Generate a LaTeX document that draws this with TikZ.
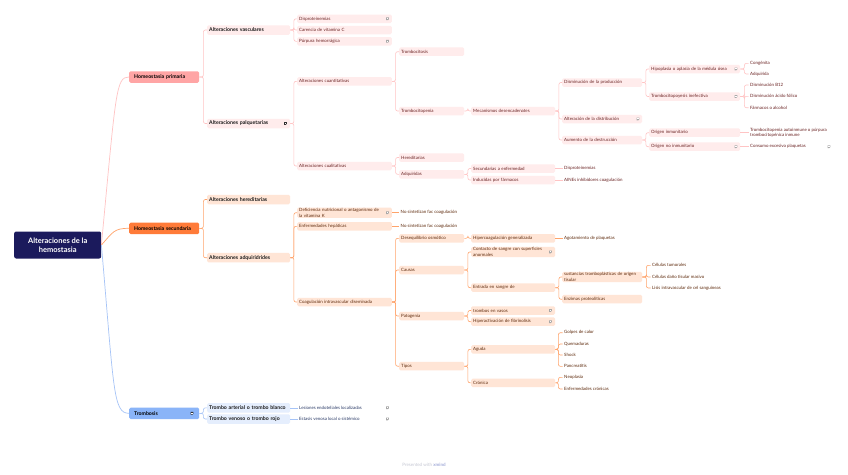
\documentclass[tikz,border=0pt]{standalone}
\usepackage{fontspec}
\setmainfont{Lato}
\usetikzlibrary{calc}
\definecolor{rootC}{HTML}{1B1A5C}
\definecolor{pkA}{HTML}{FFA5A5}
\definecolor{pkL}{HTML}{FFECEC}
\definecolor{pkE}{HTML}{FFC4C4}
\definecolor{pkT}{HTML}{6A2222}
\definecolor{orA}{HTML}{FF7B39}
\definecolor{orL}{HTML}{FFE5D6}
\definecolor{orE}{HTML}{FFA36A}
\definecolor{orT}{HTML}{5E2A0C}
\definecolor{blA}{HTML}{8AB4F8}
\definecolor{blL}{HTML}{E5EEFD}
\definecolor{blE}{HTML}{A6C4F7}
\definecolor{blT}{HTML}{2A3A66}
\definecolor{icC}{HTML}{A8A8A8}
\definecolor{wmC}{HTML}{C5C7D3}
\definecolor{wmX}{HTML}{A3ACD9}
\newcommand\mmsmall{\fontsize{4.4}{5.5}\selectfont}
\newcommand\mmmid{\fontsize{5.2}{6.2}\selectfont\bfseries}
\newcommand\mmlink[4][3.5]{\draw[#2] (#3.east) -- ++(#1,0) |- (#4.west);}
\newcommand\mmnote[3][icC]{\begin{scope}[shift={(#2,#3)}]
\fill[#1] (-1.3,-1.4) -- (1.3,-1.4) -- (1.3,0.4) -- (0.3,1.4) -- (-1.3,1.4) -- cycle;
\fill[white] (-0.6,-0.7) rectangle (0.6,-0.3);
\end{scope}}
\begin{document}
\begin{tikzpicture}[x=1pt,y=-1pt,
  box/.style={rounded corners=1.5pt, anchor=west, inner xsep=2pt, inner ysep=0.8pt,
    minimum height=8.5pt, align=left, font=\mmsmall},
  pk/.style={box, fill=pkL, text=pkT},
  or/.style={box, fill=orL, text=orT},
  b3/.style={text width=90.7pt},
  b4/.style={text width=61pt},
  b5/.style={text width=80pt},
  b6/.style={text width=76pt},
  b7/.style={text width=87pt},
  lf/.style={anchor=west, inner xsep=1.5pt, inner ysep=0.5pt, align=left, font=\mmsmall},
  l1/.style={rounded corners=1.5pt, anchor=west, inner xsep=5pt, text width=60pt,
    minimum height=11.5pt, align=left, font=\mmmid, text=black},
  l2/.style={rounded corners=1.5pt, anchor=west, inner xsep=2pt, inner ysep=0.8pt, text width=79pt,
    minimum height=9.5pt, align=left, font=\mmmid, text=black!90},
  pe/.style={draw=pkE, line width=0.6pt, rounded corners=2pt},
  oe/.style={draw=orE, line width=0.6pt, rounded corners=2pt},
  be/.style={draw=blE, line width=0.6pt, rounded corners=2pt},
  rootbox/.style={rounded corners=2pt, fill=rootC, text=white, anchor=west, minimum width=87pt,
    minimum height=27pt, align=center, font=\fontsize{7.5}{9}\selectfont\bfseries}
]
\useasboundingbox (0,0) rectangle (848,474);
\fill[white] (0,0) rectangle (848,474);

% root
\node[rootbox] (root) at (14,245) {Alteraciones de la\\hemostasia};

% level 1
\node[l1, fill=pkA] (hp) at (129,77) {Homeostasia primaria};
\node[l1, fill=orA] (hs) at (129,228.3) {Homeostasia secundaria};
\node[l1, fill=blA] (tr) at (129,413.3) {Trombosis};

\draw[draw=pkE, line width=0.7pt] (root.east) .. controls (116,90) and (116,77) .. (hp.west);
\draw[draw=orE, line width=0.7pt] (root.east) .. controls (113,232) and (114,228.3) .. (hs.west);
\draw[draw=blE, line width=0.7pt] (root.east) .. controls (114,390) and (113,413.3) .. (tr.west);

% level 2
\node[l2, fill=pkL] (av) at (207,30) {Alteraciones vasculares};
\node[l2, fill=pkL] (ap) at (207,123.5) {Alteraciones palquetarias};
\node[l2, fill=orL] (ah) at (207,199.5) {Alteraciones hereditarias};
\node[l2, fill=orL] (aa) at (207,257.7) {Alteraciones adquiridrides};
\node[l2, fill=blL] (ta) at (207,407.8) {\mbox{Trombo arterial o trombo blanco}};
\node[l2, fill=blL] (tv) at (207,419) {Trombo venoso o trombo rojo};
\mmlink[4]{pe}{hp}{av} \mmlink[4]{pe}{hp}{ap}
\mmlink[4]{oe}{hs}{ah} \mmlink[4]{oe}{hs}{aa}
\mmlink[4]{be}{tr}{ta} \mmlink[4]{be}{tr}{tv}

% ---------- pink branch ----------
\node[pk,b3] (dis) at (297,18.8) {Disproteinemias};
\node[pk,b3] (car) at (297,30) {Carencia de vitamina C};
\node[pk,b3] (pur) at (297,41.3) {Púrpura hemorrágica};
\node[pk,b3] (acu) at (297,81.3) {Alteraciones cuantitativas};
\node[pk,b3] (acl) at (297,166) {Alteraciones cualitativas};
\mmlink{pe}{av}{dis} \mmlink{pe}{av}{car} \mmlink{pe}{av}{pur}
\mmlink{pe}{ap}{acu} \mmlink{pe}{ap}{acl}

\node[pk,b4] (tcs) at (399,51.7) {Trombocitosis};
\node[pk,b4] (tcp) at (399,111) {Trombocitopenia};
\node[pk,b4] (her) at (399,157.5) {Hereditarias};
\node[pk,b4] (adq) at (399,174.3) {Adquiridas};
\mmlink{pe}{acu}{tcs} \mmlink{pe}{acu}{tcp}
\mmlink{pe}{acl}{her} \mmlink{pe}{acl}{adq}

\node[pk,b5] (mec) at (471,111) {Mecanismos desencadenates};
\node[pk,b5] (sec) at (471,168.5) {Secundarias a enfermedad};
\node[pk,b5] (ind) at (471,180) {Inducidas por fármacos};
\mmlink{pe}{tcp}{mec}
\mmlink{pe}{adq}{sec} \mmlink{pe}{adq}{ind}

\node[lf,text=pkT] (ldis) at (562.5,168.5) {Disproteinemias};
\node[lf,text=pkT] (laine) at (562.5,180) {AINEs inhibidores coagulación};
\draw[pe] (sec.east) -- (ldis.west);
\draw[pe] (ind.east) -- (laine.west);

\node[pk,b6] (dpr) at (562,82.5) {Disminución de la producción};
\node[pk,b6] (adi) at (562,119) {Alteración de la distribución};
\node[pk,b6] (ade) at (562,140) {Aumento de la destrucción};
\mmlink{pe}{mec}{dpr} \mmlink{pe}{mec}{adi} \mmlink{pe}{mec}{ade}

\node[pk,b7] (hip) at (649,69) {Hipoplasia o aplasia de la médula ósea};
\node[pk,b7] (tin) at (649,96.5) {Trombocitopoyesis inefectiva};
\node[pk,b7] (oin) at (649,132.7) {Origen inmunitario};
\node[pk,b7] (onin) at (649,146.7) {Origen no inmunitario};
\mmlink{pe}{dpr}{hip} \mmlink{pe}{dpr}{tin}
\mmlink{pe}{ade}{oin} \mmlink{pe}{ade}{onin}

\node[lf,text=pkT] (lcon) at (748.5,63.3) {Congénita};
\node[lf,text=pkT] (ladq) at (748.5,74) {Adquirida};
\node[lf,text=pkT] (lb12) at (748.5,85) {Disminución B12};
\node[lf,text=pkT] (lfol) at (748.5,96.3) {Disminución ácido fólico};
\node[lf,text=pkT] (lfar) at (748.5,107.7) {Fármacos o alcohol};
\node[lf,text=pkT] (lpti) at (748.5,132.7) {Trombocitopenia autoinmune o púrpura\\trombocitopénica inmune};
\node[lf,text=pkT] (lcons) at (748.5,146.7) {Consumo excesivo plaquetas};
\mmlink[4]{pe}{hip}{lcon} \mmlink[4]{pe}{hip}{ladq}
\mmlink[4]{pe}{tin}{lb12} \mmlink[4]{pe}{tin}{lfol} \mmlink[4]{pe}{tin}{lfar}
\draw[pe] (oin.east) -- (lpti.west);
\draw[pe] (onin.east) -- (lcons.west);

% ---------- orange branch ----------
\node[or,b3] (def) at (297,212.7) {Deficiencia nutricional o antagonismo de\\la vitamina K};
\node[or,b3] (enf) at (297,226.3) {Enfermedades hepáticas};
\node[or,b3] (cid) at (297,302) {Coagulación intravascular diseminada};
\mmlink{oe}{aa}{def} \mmlink{oe}{aa}{enf} \mmlink{oe}{aa}{cid}

\node[lf,text=orT] (lns1) at (399,212.7) {No sintetizan fac coagulación};
\node[lf,text=orT] (lns2) at (399,226.3) {No sintetizan fac coagulación};
\draw[oe] (def.east) -- (lns1.west);
\draw[oe] (enf.east) -- (lns2.west);

\node[or,b4] (deq) at (399,238.3) {Desequilibrio osmótico};
\node[or,b4] (cau) at (399,270) {Causas};
\node[or,b4] (pat) at (399,316) {Patogenia};
\node[or,b4] (tip) at (399,366.2) {Tipos};
\mmlink{oe}{cid}{deq} \mmlink{oe}{cid}{cau} \mmlink{oe}{cid}{pat} \mmlink{oe}{cid}{tip}

\node[or,b5] (hco) at (471,238.3) {Hipercoagulación generalizada};
\node[or,b5] (con) at (471,252) {Contacto de sangre con superficies\\anormales};
\node[or,b5] (ent) at (471,287.7) {Entrada en sangre de};
\node[or,b5] (tev) at (471,310.5) {trombos en vasos};
\node[or,b5] (hfi) at (471,321.7) {Hiperactivación de fibrinolisis};
\node[or,b5] (agu) at (471,349.3) {Aguda};
\node[or,b5] (cro) at (471,382.8) {Crónica};
\mmlink{oe}{deq}{hco}
\mmlink{oe}{cau}{con} \mmlink{oe}{cau}{ent}
\mmlink{oe}{pat}{tev} \mmlink{oe}{pat}{hfi}
\mmlink{oe}{tip}{agu} \mmlink{oe}{tip}{cro}

\node[lf,text=orT] (lago) at (562.5,238.3) {Agotamiento de plaquetas};
\draw[oe] (hco.east) -- (lago.west);

\node[or,b6] (sus) at (562,277) {sustancias tromboplásticas de origen\\tisular};
\node[or,b6] (enz) at (562,299.2) {Enzimas proteolíticas};
\mmlink{oe}{ent}{sus} \mmlink{oe}{ent}{enz}

\node[lf,text=orT] (lctu) at (650.5,265.3) {Células tumorales};
\node[lf,text=orT] (lcdt) at (650.5,277) {Células daño tisular masivo};
\node[lf,text=orT] (llis) at (650.5,288) {Lisis intravascular de cel sanguíneas};
\mmlink[4]{oe}{sus}{lctu} \mmlink[4]{oe}{sus}{lcdt} \mmlink[4]{oe}{sus}{llis}

\node[lf,text=orT] (lgol) at (562.5,332.7) {Golpes de calor};
\node[lf,text=orT] (lque) at (562.5,344) {Quemaduras};
\node[lf,text=orT] (lsho) at (562.5,355) {Shock};
\node[lf,text=orT] (lpan) at (562.5,366.3) {Pancreatitis};
\node[lf,text=orT] (lneo) at (562.5,377.3) {Neoplasia};
\node[lf,text=orT] (lecr) at (562.5,389) {Enfermedades crónicas};
\mmlink[3]{oe}{agu}{lgol} \mmlink[3]{oe}{agu}{lque} \mmlink[3]{oe}{agu}{lsho} \mmlink[3]{oe}{agu}{lpan}
\mmlink[3]{oe}{cro}{lneo} \mmlink[3]{oe}{cro}{lecr}

% ---------- blue branch ----------
\node[lf,text=blT] (lles) at (297.5,407.8) {Lesiones endoteliales localizadas};
\node[lf,text=blT] (lest) at (297.5,419) {Estasis venosa local o sistémico};
\draw[be] (ta.east) -- (lles.west);
\draw[be] (tv.east) -- (lest.west);

% note icons
\mmnote{387.5}{18.8}
\mmnote{387.5}{41.3}
\mmnote[black!80]{285.5}{123.5}
\mmnote{736}{69}
\mmnote{736}{96.5}
\mmnote{638}{119}
\mmnote{736}{146.7}
\mmnote{829}{146.7}
\mmnote{387.5}{212.7}
\mmnote{550.5}{252}
\mmnote{550.5}{310.5}
\mmnote{550.5}{321.7}
\mmnote[black!80]{192}{413.3}
\mmnote{387.5}{407.8}
\mmnote{387.5}{419}

% watermark
\node[font=\fontsize{4.5}{5}\selectfont, text=wmC] (wm) at (424,465) {Presented with \textcolor{wmX}{\bfseries xmind}};
\end{tikzpicture}
\end{document}
